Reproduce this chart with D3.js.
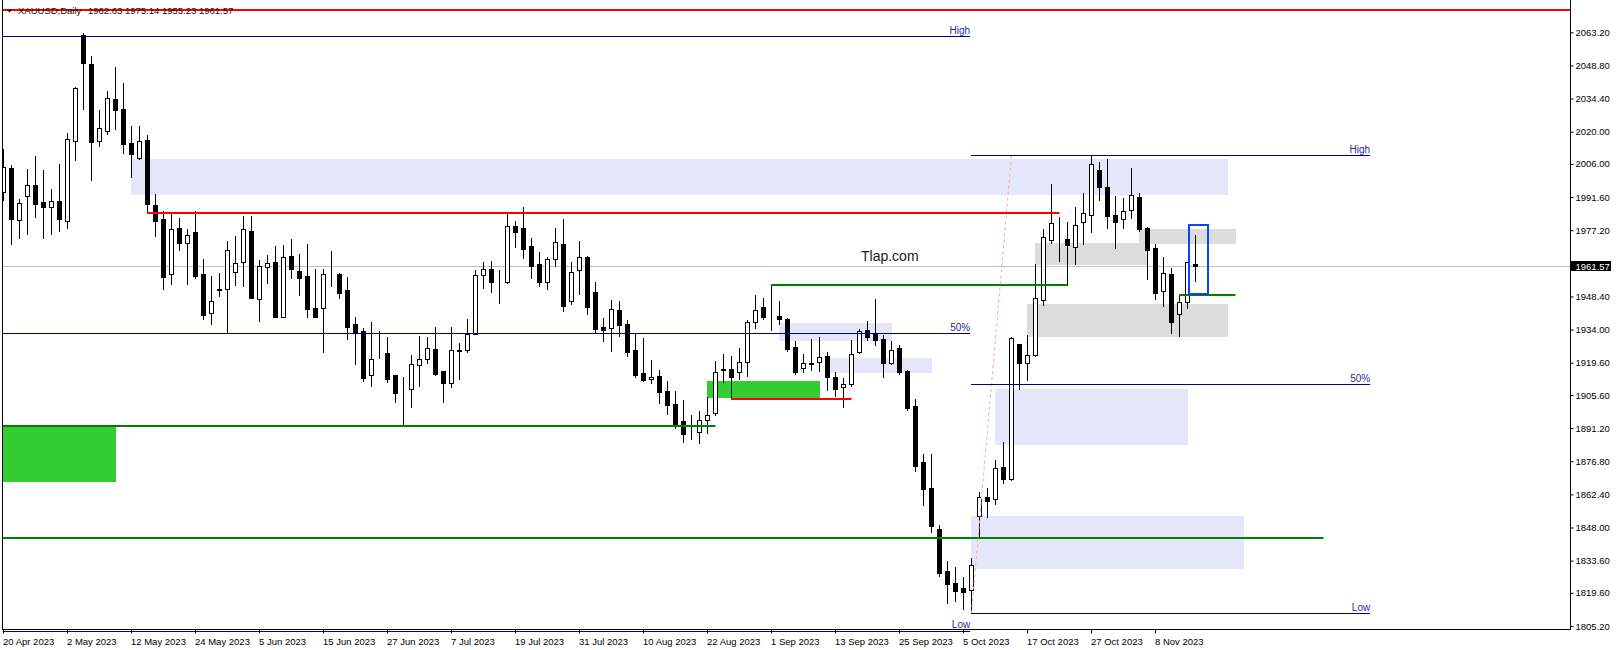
<!DOCTYPE html>
<html><head><meta charset="utf-8">
<script src="https://cdn.jsdelivr.net/npm/d3@7"></script>
<style>
body{margin:0;background:#fff;}
svg{display:block;}
text{font-family:"Liberation Sans",Arial,sans-serif;}
</style>
</head><body>
<svg id="c" width="1616" height="650"></svg>
<script>
// ---------------- data ----------------
const symbolName = "XAUUSD,Daily";
const lastQuote = "1962.63 1975.14 1955.23 1961.57";
const currentPrice = 1961.57;
const watermark = ["Tlap.com", 107.25, 1963.7];

const dateTicks = ["20 Apr 2023","2 May 2023","12 May 2023","24 May 2023","5 Jun 2023","15 Jun 2023","27 Jun 2023","7 Jul 2023","19 Jul 2023","31 Jul 2023","10 Aug 2023","22 Aug 2023","1 Sep 2023","13 Sep 2023","25 Sep 2023","5 Oct 2023","17 Oct 2023","27 Oct 2023","8 Nov 2023"];
const priceTicks = [2063.20,2048.80,2034.40,2020.00,2006.00,1991.60,1977.20,1962.80,1948.40,1934.00,1919.60,1905.60,1891.20,1876.80,1862.40,1848.00,1833.60,1819.60,1805.20];

const open = [1993.9,2004.2,1981.8,1992.2,1996.8,1989.5,1987.4,1989.8,1981.3,2016.1,
2062.0,2049.4,2016.1,2020.4,2034.1,2029.7,2015.0,2008.4,2016.3,1988.0,
1981.9,1958.0,1978.0,1971.5,1976.4,1958.0,1941.1,1951.3,1951.5,1958.9,
1963.2,1976.9,1947.2,1961.1,1963.4,1939.6,1966.0,1959.5,1957.3,1943.4,
1943.3,1957.2,1958.2,1951.2,1936.4,1933.4,1914.1,1922.9,1923.8,1914.3,
1907.7,1908.3,1918.5,1921.1,1925.4,1916.0,1910.7,1924.9,1925.0,1932.1,
1957.6,1960.2,1955.0,1954.6,1978.9,1978.2,1970.2,1962.5,1954.8,1964.6,
1971.2,1946.3,1959.8,1965.6,1950.2,1935.1,1934.6,1942.4,1936.3,1925.0,
1915.0,1912.4,1913.7,1907.3,1901.5,1894.3,1889.4,1889.4,1894.7,1897.6,
1916.6,1916.7,1915.4,1920.0,1937.2,1943.7,1939.7,1939.9,1938.6,1926.4,
1917.2,1919.1,1919.8,1922.4,1913.4,1908.9,1910.5,1924.1,1933.8,1932.2,
1929.8,1919.6,1925.9,1916.0,1900.8,1876.3,1865.3,1847.3,1829.1,1823.9,
1821.7,1820.8,1853.1,1861.4,1860.2,1874.2,1868.9,1927.6,1919.6,1923.1,
1947.0,1972.8,1972.4,1973.4,1969.8,1980.6,1983.7,2003.4,1996.0,1983.8,
1981.9,1985.8,1991.6,1978.0,1969.3,1950.6,1958.0,1940.6,1945.9,1962.63];
const high = [2012.4,2005.4,1990.8,2003.8,2009.6,2003.4,1995.1,2006.0,2019.3,2039.6,
2062.8,2052.9,2029.4,2037.7,2048.1,2041.2,2022.5,2022.5,2018.6,1992.9,
1985.7,1984.5,1982.5,1977.6,1985.4,1964.7,1957.3,1958.5,1972.4,1974.7,
1983.4,1983.4,1964.2,1966.4,1970.3,1970.8,1973.4,1966.9,1971.2,1960.3,
1960.3,1968.2,1958.5,1956.7,1939.6,1934.8,1937.3,1933.4,1930.8,1914.4,
1913.3,1923.0,1931.2,1930.8,1935.1,1916.1,1935.1,1928.0,1938.6,1959.9,
1963.2,1963.8,1959.9,1984.2,1981.3,1987.3,1973.7,1967.7,1965.7,1978.2,
1982.1,1963.4,1972.5,1966.0,1954.7,1939.0,1946.9,1946.4,1938.2,1932.4,
1930.3,1920.8,1916.4,1911.5,1907.4,1903.4,1896.8,1898.6,1904.8,1920.2,
1923.4,1922.5,1925.9,1938.2,1948.9,1947.6,1953.4,1946.4,1938.9,1929.0,
1923.4,1929.9,1930.8,1924.3,1915.4,1912.8,1929.3,1934.3,1937.7,1947.3,
1931.5,1929.0,1927.3,1916.4,1903.8,1879.8,1879.8,1849.1,1833.4,1830.7,
1826.4,1834.6,1863.3,1865.0,1877.3,1885.0,1930.7,1927.8,1931.5,1962.5,
1977.7,1997.3,1982.9,1980.8,1987.3,1993.4,2010.0,2006.8,2008.1,1992.1,
1991.2,2004.2,1993.4,1978.5,1971.2,1965.6,1960.8,1949.5,1963.4,1975.14];
const low = [1990.3,1971.2,1973.8,1975.5,1983.1,1973.9,1975.5,1976.9,1978.3,2007.7,
2029.9,1999.0,2013.8,2019.0,2021.2,2010.9,2000.4,2008.2,1984.5,1974.8,
1951.8,1953.8,1968.6,1953.8,1956.6,1938.6,1936.4,1948.7,1932.5,1953.4,
1952.9,1947.7,1937.9,1954.1,1939.3,1939.3,1956.6,1949.0,1939.4,1939.3,
1924.4,1952.9,1947.6,1929.8,1918.9,1911.7,1909.6,1921.5,1911.4,1902.7,
1892.5,1900.5,1909.6,1919.6,1914.4,1902.4,1909.2,1912.7,1924.1,1931.9,
1952.2,1950.5,1945.7,1954.4,1969.8,1965.2,1956.6,1953.1,1951.5,1961.6,
1942.2,1945.3,1949.6,1940.9,1932.4,1929.2,1924.8,1931.3,1922.7,1913.4,
1911.8,1910.7,1902.2,1897.4,1891.4,1885.0,1886.6,1884.6,1888.9,1896.7,
1911.4,1903.8,1912.5,1914.0,1934.9,1938.6,1933.8,1936.6,1924.7,1914.8,
1915.7,1916.4,1916.1,1907.6,1905.3,1900.5,1909.6,1923.9,1929.5,1927.3,
1913.5,1919.0,1914.8,1898.9,1872.4,1857.6,1846.2,1826.9,1815.1,1816.2,
1812.4,1810.8,1844.0,1852.7,1858.3,1867.5,1868.7,1908.1,1912.1,1922.5,
1944.8,1971.8,1963.8,1953.4,1962.6,1971.3,1976.5,1990.3,1978.3,1969.6,
1978.3,1982.6,1977.0,1956.1,1947.2,1944.4,1932.7,1931.3,1943.5,1955.23];
const close = [2004.7,1982.1,1989.0,1996.8,1988.7,1987.4,1989.8,1982.1,2016.7,2038.9,
2050.0,2015.5,2021.5,2034.5,2029.6,2014.8,2010.4,2015.8,1988.5,1981.3,
1957.0,1977.6,1971.5,1975.0,1957.3,1940.5,1946.3,1951.6,1968.5,1962.8,
1977.6,1947.9,1961.5,1962.8,1939.6,1965.4,1960.5,1956.6,1942.8,1939.6,
1958.0,1957.3,1950.0,1935.3,1932.4,1913.1,1921.1,1923.1,1912.7,1906.6,
1907.9,1918.9,1921.1,1925.9,1914.6,1910.7,1925.0,1925.1,1932.1,1957.6,
1960.2,1954.8,1955.2,1978.9,1976.5,1969.2,1961.8,1954.6,1964.6,1971.9,
1944.4,1958.9,1965.4,1943.9,1934.4,1934.0,1942.8,1936.1,1924.4,1914.4,
1912.2,1913.5,1907.0,1901.4,1892.2,1888.8,1889.6,1894.6,1897.0,1915.4,
1916.8,1913.5,1919.8,1937.2,1942.4,1939.6,1939.9,1938.5,1925.6,1915.7,
1919.4,1919.3,1922.0,1913.3,1908.1,1910.2,1923.3,1933.3,1930.9,1929.3,
1919.6,1925.0,1915.6,1900.1,1874.9,1864.9,1848.8,1828.1,1823.3,1820.5,
1820.1,1831.6,1861.1,1859.6,1873.7,1868.9,1930.2,1919.6,1922.8,1947.6,
1974.1,1980.2,1972.6,1970.9,1979.3,1984.7,2005.8,1996.1,1983.5,1980.9,
1985.4,1992.4,1977.7,1968.7,1950.0,1958.5,1937.4,1945.9,1963.2,1961.57];

// drawn objects: [fromBar, toBar, price] / [fromBar, toBar, topPrice, bottomPrice]
const redLevels = [[-1, 200, 2072.9], [18, 132, 1984.8], [91, 106, 1904.0]];
const greenLevels = [[-1, 89, 1892.2], [96, 133, 1953.4], [-1, 165, 1843.6], [147, 154, 1949.2]];
const limeZones = [[-1, 14, 1892.2, 1867.6], [88, 102, 1911.7, 1904.4]];
const lavenderZones = [[16,153,2008.1,1992.5],[97,111,1936.9,1929.2],[103,116,1921.8,1915.2],[124,148,1908.2,1884.0],[121,155,1853.0,1829.8]];
const grayZones = [[129,143,1971.6,1962.1],[142,154,1977.7,1971.3],[128,153,1945.1,1930.9]];
const markBox = [148.2, 150.6, 1979.6, 1949.5];
const fibLabels = ["High","50%","Low"];
const fib1 = [-1, 120.9, [2061.6, 1932.4, 1803.2]];
const fib2 = [121, 170.9, [2009.9, 1910.4, 1810.8]];
const fibDiag = [[121, 1810.8], [126, 2009.9]];

// ---------------- drawing ----------------
const svg = d3.select("#c");
const x = d3.scaleLinear().domain([0, 149]).range([3, 1195]);
const y = d3.scaleLinear().domain([1805.2, 2063.2]).range([626, 32.3]);
const px = i => Math.round(x(i)) + 0.5;
const py = p => Math.round(y(p)) + 0.5;
const plotR = 1570, plotB = 629;

svg.append("defs").append("clipPath").attr("id","plot")
  .append("rect").attr("x",3).attr("y",0).attr("width",plotR-3).attr("height",plotB);
svg.append("defs").append("clipPath").attr("id","plot2")
  .append("rect").attr("x",3).attr("y",0).attr("width",plotR-3).attr("height",plotB+3);

const bg = svg.append("g").attr("clip-path","url(#plot)");
function zones(arr, color){
  bg.selectAll(null).data(arr).enter().append("rect")
    .attr("x", d => Math.round(x(d[0])))
    .attr("width", d => Math.round(x(d[1])) - Math.round(x(d[0])) + 1)
    .attr("y", d => Math.round(y(d[2])))
    .attr("height", d => Math.round(y(d[3])) - Math.round(y(d[2])))
    .attr("fill", color);
}
zones(lavenderZones, "#e6e6fa");
zones(grayZones, "#dcdcdc");
zones(limeZones, "#32cd32");

// bid line
bg.append("line").attr("x1",3).attr("x2",plotR).attr("y1",py(currentPrice)).attr("y2",py(currentPrice))
  .attr("stroke","#c0c0c0").attr("stroke-width",1);

// candles
const idx = d3.range(open.length);
const cg = svg.append("g").attr("clip-path","url(#plot)");
cg.selectAll("line.w").data(idx).enter().append("line")
  .attr("x1", i => px(i)).attr("x2", i => px(i))
  .attr("y1", i => Math.round(y(high[i])))
  .attr("y2", i => Math.round(y(low[i])) + 1)
  .attr("stroke","#000").attr("stroke-width",1);
cg.selectAll("rect.b").data(idx).enter().append("rect")
  .attr("x", i => px(i) - 2)
  .attr("width", 4)
  .attr("y", i => py(Math.max(open[i], close[i])))
  .attr("height", i => py(Math.min(open[i], close[i])) - py(Math.max(open[i], close[i])))
  .attr("fill", i => close[i] >= open[i] ? "#fff" : "#000")
  .attr("stroke","#000").attr("stroke-width",1);

// lines
const lg = svg.append("g").attr("clip-path","url(#plot2)");
function levels(arr, color){
  lg.selectAll(null).data(arr).enter().append("line")
    .attr("x1", d => Math.max(3, x(d[0]))).attr("x2", d => Math.min(plotR, x(d[1]) + 0.5))
    .attr("y1", d => Math.round(y(d[2]))).attr("y2", d => Math.round(y(d[2])))
    .attr("stroke", color).attr("stroke-width", 2);
}
levels(greenLevels, "#008000");

// fib diagonal
lg.append("line")
  .attr("x1", px(fibDiag[0][0])).attr("y1", y(fibDiag[0][1]))
  .attr("x2", px(fibDiag[1][0])).attr("y2", y(fibDiag[1][1]))
  .attr("stroke","#f4a8a8").attr("stroke-width",1).attr("stroke-dasharray","3,3");

function fib(f){
  const [a, b, lv] = f;
  lv.forEach((p, k) => {
    lg.append("line").attr("x1", Math.max(3, x(a))).attr("x2", x(b))
      .attr("y1", py(p)).attr("y2", py(p)).attr("stroke","#000080").attr("stroke-width",1);
    svg.append("text").attr("x", x(b)).attr("y", Math.min(py(p) - 2.5, 627.5))
      .attr("text-anchor","end").attr("font-size","10px").attr("fill","#2a2aa0")
      .text(fibLabels[k]);
  });
}
fib(fib1); fib(fib2);

// blue marker box
svg.append("rect")
  .attr("x", Math.round(x(markBox[0]))).attr("y", Math.round(y(markBox[2])))
  .attr("width", Math.round(x(markBox[1])) - Math.round(x(markBox[0])))
  .attr("height", Math.round(y(markBox[3])) - Math.round(y(markBox[2])))
  .attr("fill","none").attr("stroke","#1040ff").attr("stroke-width",2);

// watermark text
svg.append("text").attr("x", x(watermark[1])).attr("y", y(watermark[2]))
  .attr("font-size","14px").attr("fill","#1a1a1a").text(watermark[0]);

// axes
const ay = svg.append("g").attr("transform",`translate(${plotR+0.5},0)`)
  .call(d3.axisRight(y).tickValues(priceTicks).tickFormat(d3.format(".2f")).tickSizeInner(3).tickSizeOuter(0).tickPadding(2));
ay.select(".domain").remove();
ay.selectAll("text").attr("font-family","'Liberation Sans',Arial,sans-serif").attr("font-size","9.5px").attr("fill","#000");
ay.selectAll("line").attr("stroke","#000");

const ax = svg.append("g").attr("transform",`translate(0,${plotB+0.5})`)
  .call(d3.axisBottom(x).tickValues(d3.range(dateTicks.length).map(k => k*8)).tickFormat((d,k) => dateTicks[k]).tickSizeInner(4).tickSizeOuter(0));
ax.select(".domain").remove();
ax.selectAll("text").attr("font-family","'Liberation Sans',Arial,sans-serif").attr("font-size","9.5px")
  .attr("fill","#000").attr("text-anchor","start").attr("x",-0.5).attr("y",15).attr("dy",0);
ax.selectAll("line").attr("stroke","#000");

// frame
svg.append("line").attr("x1",2.5).attr("x2",2.5).attr("y1",0).attr("y2",plotB+1).attr("stroke","#000");
svg.append("line").attr("x1",2).attr("x2",plotR+1).attr("y1",plotB+0.5).attr("y2",plotB+0.5).attr("stroke","#000");
svg.append("line").attr("x1",plotR+0.5).attr("x2",plotR+0.5).attr("y1",0).attr("y2",plotB+1).attr("stroke","#000");

// current price label
svg.append("rect").attr("x",1571).attr("y",Math.round(y(currentPrice))-5).attr("width",40).attr("height",10).attr("fill","#000");
svg.append("text").attr("x",1575.5).attr("y",Math.round(y(currentPrice))+3.5)
  .attr("font-size","9.5px").attr("fill","#fff").text(d3.format(".2f")(currentPrice));

// header
svg.append("path").attr("d","M7,9.5 L12,9.5 L9.5,12.5 Z").attr("fill","#000");
svg.append("text").attr("x",18).attr("y",14).attr("font-size","9.5px").attr("fill","#111").text(symbolName);
svg.append("text").attr("x",88).attr("y",14).attr("font-size","9.5px").attr("fill","#111").text(lastQuote);

// red levels on top
levels(redLevels, "#ff0000");
</script>
</body></html>
